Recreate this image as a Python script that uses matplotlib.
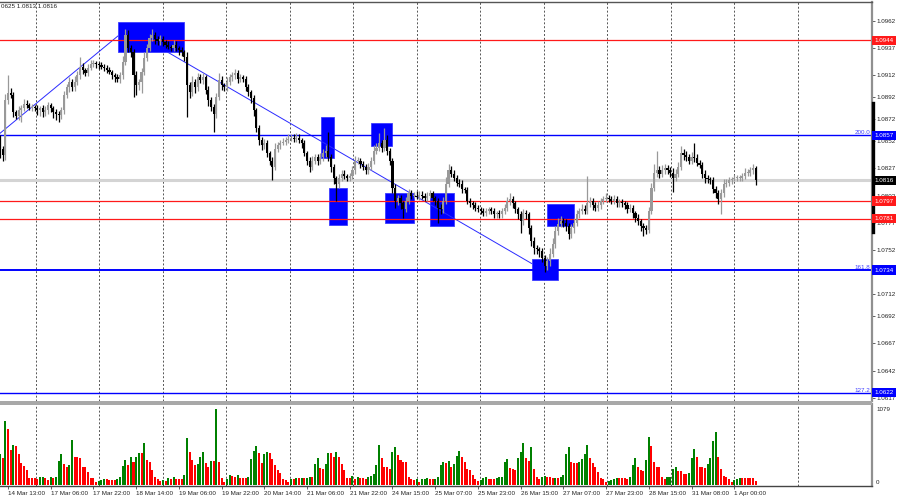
import matplotlib
matplotlib.use("Agg")
import matplotlib.pyplot as plt
import matplotlib.transforms as mtransforms
from matplotlib.patches import Rectangle

plt.rcParams['font.family'] = ['Liberation Sans', 'DejaVu Sans']

# hourly closes, bar 0 = 14 Mar 10:00
closes = [
    1.0845, 1.0839, 1.0889, 1.0896, 1.0894, 1.0878, 1.0875, 1.0880, 1.0882, 1.0886,
    1.0885, 1.0882, 1.0883, 1.0882, 1.0880, 1.0882, 1.0878, 1.0880, 1.0885, 1.0882,
    1.0878, 1.0877, 1.0876, 1.0880, 1.0894, 1.0901, 1.0906, 1.0901, 1.0906, 1.0912,
    1.0920, 1.0917, 1.0914, 1.0919, 1.0922, 1.0923, 1.0922, 1.0921, 1.0920, 1.0919,
    1.0917, 1.0915, 1.0912, 1.0910, 1.0909, 1.0912, 1.0924, 1.0949, 1.0937, 1.0933,
    1.0912, 1.0903, 1.0906, 1.0915, 1.0928, 1.0937, 1.0946, 1.0949, 1.0945, 1.0943,
    1.0945, 1.0942, 1.0940, 1.0938, 1.0937, 1.0940, 1.0937, 1.0935, 1.0933, 1.0929,
    1.0903, 1.0897, 1.0906, 1.0901, 1.0910, 1.0908, 1.0910, 1.0899, 1.0889, 1.0883,
    1.0877, 1.0892, 1.0908, 1.0903, 1.0901, 1.0906, 1.0910, 1.0912, 1.0914, 1.0909,
    1.0910, 1.0909, 1.0901, 1.0897, 1.0891, 1.0880, 1.0864, 1.0853, 1.0848, 1.0850,
    1.0841, 1.0834, 1.0828, 1.0845, 1.0848, 1.0850, 1.0851, 1.0853, 1.0854, 1.0855,
    1.0854, 1.0855, 1.0853, 1.0850, 1.0841, 1.0834, 1.0828, 1.0834, 1.0837, 1.0834,
    1.0837, 1.0841, 1.0843, 1.0837, 1.0828, 1.0818, 1.0813, 1.0818, 1.0822, 1.0820,
    1.0818, 1.0820, 1.0825, 1.0834, 1.0834, 1.0831, 1.0828, 1.0825, 1.0828, 1.0834,
    1.0843, 1.0846, 1.0850, 1.0846, 1.0853, 1.0843, 1.0834, 1.0809, 1.0797, 1.0800,
    1.0795, 1.0790, 1.0797, 1.0804, 1.0802, 1.0802, 1.0801, 1.0803, 1.0802, 1.0800,
    1.0802, 1.0804, 1.0800, 1.0797, 1.0791, 1.0790, 1.0797, 1.0813, 1.0825, 1.0822,
    1.0818, 1.0814, 1.0813, 1.0808, 1.0807, 1.0797, 1.0795, 1.0793, 1.0791, 1.0790,
    1.0788, 1.0786, 1.0788, 1.0790, 1.0788, 1.0785, 1.0786, 1.0785, 1.0788, 1.0791,
    1.0797, 1.0799, 1.0795, 1.0790, 1.0785, 1.0779, 1.0786, 1.0785, 1.0772, 1.0761,
    1.0754, 1.0753, 1.0751, 1.0745, 1.0738, 1.0742, 1.0749, 1.0758, 1.0770, 1.0776,
    1.0779, 1.0777, 1.0774, 1.0767, 1.0772, 1.0777, 1.0785, 1.0788, 1.0790, 1.0788,
    1.0795, 1.0797, 1.0793, 1.0791, 1.0793, 1.0797, 1.0799, 1.0800, 1.0799, 1.0797,
    1.0799, 1.0795, 1.0796, 1.0795, 1.0793, 1.0790, 1.0791, 1.0786, 1.0782, 1.0779,
    1.0774, 1.0772, 1.0771, 1.0788, 1.0809, 1.0823, 1.0825, 1.0822, 1.0825, 1.0827,
    1.0825, 1.0823, 1.0818, 1.0822, 1.0828, 1.0841, 1.0839, 1.0837, 1.0834, 1.0837,
    1.0836, 1.0832, 1.0830, 1.0822, 1.0818, 1.0817, 1.0816, 1.0808, 1.0804, 1.0799,
    1.0804, 1.0813, 1.0814, 1.0816, 1.0817, 1.0818, 1.0818, 1.0818, 1.0820, 1.0823,
    1.0823, 1.0825, 1.0827, 1.0816,
]
first_open = 1.0854

# wick lengths in pips above / below the body
wick_up = [
    3, 2, 6, 16, 4, 3, 2, 4, 3, 4,
    3, 2, 3, 2, 3, 2, 3, 4, 3, 2,
    2, 3, 2, 3, 4, 3, 4, 3, 5, 4,
    9, 3, 2, 3, 4, 3, 2, 2, 3, 2,
    2, 3, 2, 2, 3, 3, 6, 5, 4, 3,
    3, 4, 3, 4, 5, 4, 4, 5, 3, 3,
    4, 3, 2, 3, 2, 4, 3, 2, 3, 2,
    4, 3, 5, 3, 4, 3, 4, 2, 3, 3,
    3, 4, 6, 3, 2, 4, 3, 3, 4, 3,
    3, 2, 2, 3, 2, 3, 2, 3, 3, 4,
    3, 2, 3, 5, 3, 3, 4, 3, 4, 3,
    3, 4, 3, 2, 3, 2, 3, 4, 3, 3,
    4, 4, 5, 17, 3, 3, 2, 4, 3, 3,
    2, 3, 4, 4, 3, 2, 3, 3, 4, 3,
    5, 4, 9, 3, 11, 4, 3, 2, 4, 3,
    3, 2, 4, 4, 3, 3, 4, 3, 3, 2,
    3, 3, 2, 2, 3, 3, 4, 6, 6, 4,
    3, 3, 3, 3, 2, 3, 3, 2, 3, 2,
    2, 3, 3, 2, 2, 3, 2, 3, 3, 3,
    4, 5, 3, 2, 2, 3, 4, 3, 2, 3,
    3, 3, 2, 3, 3, 4, 5, 5, 4, 6,
    4, 3, 4, 3, 4, 5, 4, 3, 4, 3,
    25, 4, 3, 3, 4, 3, 3, 4, 3, 3,
    4, 3, 3, 3, 2, 3, 3, 2, 2, 3,
    2, 3, 3, 4, 5, 8, 18, 4, 5, 4,
    3, 3, 4, 4, 5, 6, 4, 4, 3, 5,
    13, 4, 3, 3, 3, 3, 2, 3, 3, 3,
    4, 4, 3, 3, 2, 3, 3, 3, 3, 4,
    3, 3, 4, 2,
]
wick_dn = [
    9, 5, 4, 3, 3, 4, 3, 4, 11, 3,
    3, 2, 3, 3, 4, 5, 4, 3, 3, 4,
    5, 6, 7, 4, 3, 3, 4, 3, 3, 3,
    3, 4, 3, 3, 2, 2, 3, 3, 2, 3,
    3, 2, 3, 4, 3, 4, 3, 3, 4, 4,
    20, 9, 4, 10, 3, 3, 3, 3, 4, 3,
    3, 3, 3, 2, 3, 3, 3, 4, 3, 4,
    29, 6, 4, 5, 3, 3, 4, 4, 5, 4,
    17, 4, 3, 4, 3, 3, 3, 3, 3, 4,
    3, 3, 3, 4, 4, 5, 4, 5, 4, 3,
    4, 4, 12, 3, 3, 3, 2, 3, 3, 2,
    3, 3, 3, 4, 3, 4, 4, 3, 3, 4,
    3, 3, 4, 3, 4, 5, 16, 4, 3, 3,
    3, 3, 3, 3, 3, 4, 3, 3, 3, 3,
    3, 3, 3, 4, 3, 4, 4, 5, 6, 4,
    5, 8, 3, 3, 3, 2, 2, 3, 3, 3,
    3, 2, 3, 4, 14, 5, 4, 3, 3, 3,
    3, 3, 3, 4, 3, 3, 3, 3, 3, 3,
    3, 3, 3, 3, 3, 3, 3, 3, 3, 3,
    3, 4, 4, 4, 4, 11, 4, 4, 5, 5,
    5, 4, 5, 4, 6, 4, 4, 3, 4, 4,
    3, 4, 4, 5, 4, 4, 3, 3, 3, 3,
    3, 3, 4, 3, 3, 3, 3, 3, 3, 3,
    3, 3, 3, 3, 3, 4, 3, 4, 4, 4,
    4, 7, 4, 3, 3, 3, 4, 4, 3, 3,
    3, 4, 13, 3, 3, 3, 4, 3, 3, 3,
    3, 3, 3, 4, 4, 3, 3, 4, 4, 5,
    14, 3, 3, 3, 3, 2, 3, 3, 3, 3,
    3, 3, 3, 4,
]

volumes = [
    442, 390, 912, 793, 499, 570, 556, 437, 309, 271,
    214, 105, 105, 104, 81, 109, 119, 105, 71, 119,
    105, 109, 347, 442, 299, 252, 285, 636, 404, 404,
    380, 252, 252, 190, 95, 95, 43, 57, 71, 90,
    90, 71, 71, 71, 81, 109, 271, 356, 285, 394,
    332, 394, 461, 461, 603, 356, 332, 214, 119, 90,
    57, 71, 57, 95, 81, 109, 81, 81, 81, 142,
    670, 470, 356, 285, 299, 404, 465, 309, 252, 347,
    347, 1079, 332, 95, 48, 90, 142, 128, 119, 142,
    95, 95, 95, 119, 366, 485, 556, 451, 318, 437,
    465, 451, 366, 285, 214, 166, 81, 71, 48, 81,
    81, 105, 95, 105, 95, 105, 119, 119, 295, 380,
    238, 233, 299, 451, 451, 404, 465, 404, 295, 214,
    95, 95, 128, 90, 109, 105, 95, 81, 109, 128,
    157, 285, 570, 390, 261, 252, 228, 475, 546, 428,
    356, 332, 332, 119, 90, 71, 81, 48, 81, 86,
    95, 86, 86, 90, 109, 285, 332, 309, 342, 261,
    295, 413, 485, 394, 332, 223, 214, 142, 81, 57,
    71, 95, 119, 90, 86, 81, 95, 109, 119, 332,
    366, 238, 228, 214, 380, 465, 594, 380, 342, 537,
    228, 119, 81, 109, 128, 119, 119, 95, 105, 95,
    109, 142, 442, 537, 332, 309, 309, 332, 366, 442,
    570, 380, 309, 252, 190, 95, 81, 48, 57, 71,
    81, 95, 95, 95, 95, 81, 109, 285, 380, 261,
    214, 204, 356, 679, 556, 332, 261, 261, 119, 81,
    109, 119, 223, 261, 204, 200, 157, 157, 176, 390,
    508, 394, 261, 252, 238, 299, 380, 627, 746, 394,
    223, 128, 119, 86, 48, 71, 86, 95, 95, 95,
    95, 95, 95, 62,
]

time_labels = ["13 Mar 21:00", "14 Mar 13:00", "17 Mar 06:00", "17 Mar 22:00",
               "18 Mar 14:00", "19 Mar 06:00", "19 Mar 22:00", "20 Mar 14:00",
               "21 Mar 06:00", "21 Mar 22:00", "24 Mar 15:00", "25 Mar 07:00",
               "25 Mar 23:00", "26 Mar 15:00", "27 Mar 07:00", "27 Mar 23:00",
               "28 Mar 15:00", "31 Mar 08:00", "1 Apr 00:00"]
first_label_bar = -13

price_ticks = [1.0962, 1.0937, 1.0912, 1.0892, 1.0872, 1.0852, 1.0827, 1.0802,
               1.0777, 1.0752, 1.0732, 1.0712, 1.0692, 1.0667, 1.0642, 1.0617]

red_levels = [1.0944, 1.0797, 1.0781]
fibo_levels = [1.0857, 1.0734, 1.0622]
fibo_names = ["200.0", "161.8", "127.2"]
last_price = 1.0816
vol_max = 1079

# blue zones: (bar from, bar to, price low, price high)
zones = [(44.2, 68.9, 1.0933, 1.0961), (120.1, 125.0, 1.0836, 1.0874),
         (123.1, 130.0, 1.0775, 1.0809), (139.0, 146.9, 1.0847, 1.0868),
         (144.2, 155.1, 1.0777, 1.0804), (161.0, 169.9, 1.0774, 1.0804),
         (199.1, 208.9, 1.0725, 1.0744), (205.0, 214.9, 1.0774, 1.0794)]
# trend lines: (bar, price, bar, price)
trends = [(0.0, 1.0859, 44.2, 1.0948), (62.9, 1.0933, 199.1, 1.0740)]

assert len(closes) == len(wick_up) == len(wick_dn) == len(volumes)

W, H = 900, 500
PX_BAR = 2.67          # pixels per bar
AX_RIGHT = 872

fig = plt.figure(figsize=(9, 5), dpi=100)
fig.patch.set_facecolor('white')
ax = fig.add_axes([0, 1 - 401 / H, AX_RIGHT / W, 399 / H])
axv = fig.add_axes([0, 1 - 486 / H, AX_RIGHT / W, 82 / H])

n = len(closes)
idx = list(range(n))
opens = [first_open] + closes[:-1]
highs = [max(o, c) + u * 1e-4 for o, c, u in zip(opens, closes, wick_up)]
lows = [min(o, c) - d * 1e-4 for o, c, d in zip(opens, closes, wick_dn)]
cols = ['#999999' if c >= o else '#000000' for o, c in zip(opens, closes)]

xmax = AX_RIGHT / PX_BAR
for a in (ax, axv):
    a.set_xlim(0, xmax)
    for k in range(13):
        a.axvline((35.7 + 63.5 * k) / PX_BAR, color='#555555', lw=0.7,
                  ls=(0, (2, 2)), zorder=0)

# zones and lines
for b0, b1, plo, phi in zones:
    ax.add_patch(Rectangle((b0, plo), b1 - b0, phi - plo, facecolor='#0000ff',
                           edgecolor='#3c3cff', lw=0.6, zorder=1))
for b0, p0, b1, p1 in trends:
    ax.plot([b0, b1], [p0, p1], color='#2a2aff', lw=0.7, zorder=2)

ax.axhline(last_price, color='#d4d4d4', lw=2.2, zorder=1)
for p in red_levels:
    ax.axhline(p, color='#ff1a1a', lw=0.9, zorder=2)
for p, name in zip(fibo_levels, fibo_names):
    ax.axhline(p, color='#0000ff', lw=1.4 if name == "161.8" else 1.0, zorder=2)
    ax.text(870 / AX_RIGHT, p, name, transform=mtransforms.blended_transform_factory(
        ax.transAxes, ax.transData), ha='right', va='bottom', fontsize=4.5,
        color='#4040ff')

# candles
ax.vlines(idx, lows, highs, colors=cols, lw=0.9, zorder=3)
ax.bar(idx, [max(abs(c - o), 0.00006) for o, c in zip(opens, closes)],
       bottom=[min(o, c) for o, c in zip(opens, closes)], width=0.8,
       color=cols, linewidth=0, zorder=4)

ax.set_ylim(1.06143, 1.09790)
ax.yaxis.tick_right()
ax.set_yticks(price_ticks)
ax.set_yticklabels([f"{t:.4f}" for t in price_ticks])
ax.tick_params(axis='y', labelsize=4.5, length=2, pad=1.5, width=0.5,
               colors='#222222')
ax.set_xticks([])
for s in ('left', 'bottom'):
    ax.spines[s].set_visible(False)
ax.spines['top'].set_color('#555555')
ax.spines['top'].set_linewidth(1.0)
ax.spines['right'].set_color('#909090')
ax.spines['right'].set_linewidth(1.6)

bt = mtransforms.blended_transform_factory(ax.transAxes, ax.transData)
ax.plot([1.0015, 1.0015], [1.0887, 1.0769], transform=bt, color='black',
        lw=2.4, clip_on=False, zorder=5)

# price tags on the axis
tags = [(p, '#ff1a1a') for p in red_levels] + [(p, '#0000ff') for p in fibo_levels] \
    + [(last_price, '#000000')]
for p, c in tags:
    ax.text(874.5 / AX_RIGHT, p, f"{p:.4f}", transform=bt, ha='left', va='center',
            fontsize=4.5, color='white', clip_on=False, zorder=6,
            bbox=dict(boxstyle='square,pad=0.35', fc=c, ec='none'))

# volumes
vcols = ['#008000' if i == 0 or volumes[i] > volumes[i - 1] else '#ff0000'
         for i in idx]
axv.bar(idx, volumes, width=0.75, color=vcols, linewidth=0, zorder=2)
axv.set_ylim(-14, 1150)
axv.set_yticks([])
vt = mtransforms.blended_transform_factory(axv.transAxes, axv.transData)
axv.text(876 / AX_RIGHT, vol_max, str(vol_max), transform=vt, ha='left',
         va='center', fontsize=4.5, color='#222222')
axv.text(876 / AX_RIGHT, 0, "0", transform=vt, ha='left', va='bottom',
         fontsize=4.5, color='#222222')
for s in ('left', 'top'):
    axv.spines[s].set_visible(False)
axv.spines['bottom'].set_color('#444444')
axv.spines['bottom'].set_linewidth(1.0)
axv.spines['right'].set_color('#909090')
axv.spines['right'].set_linewidth(1.6)

label_pos = [first_label_bar + 16 * k for k in range(len(time_labels))]
axv.set_xticks(label_pos)
axv.set_xticklabels(time_labels)
axv.tick_params(axis='x', labelsize=4.5, length=2, pad=1.5, width=0.5,
                colors='#222222')
for lbl in axv.get_xticklabels():
    lbl.set_horizontalalignment('left')
axv.set_xlim(0, xmax)

# panel separator
fig.patches.append(Rectangle((0, 1 - 405 / H), AX_RIGHT / W, 4 / H,
                             transform=fig.transFigure, facecolor='#a8a8a8',
                             edgecolor='none', zorder=0))

fig.text(1 / W, 1 - 7 / H, "0625 1.0813 1.0816", fontsize=4.5, ha='left',
         va='center', color='#222222')

fig.savefig("out.png", dpi=100)
